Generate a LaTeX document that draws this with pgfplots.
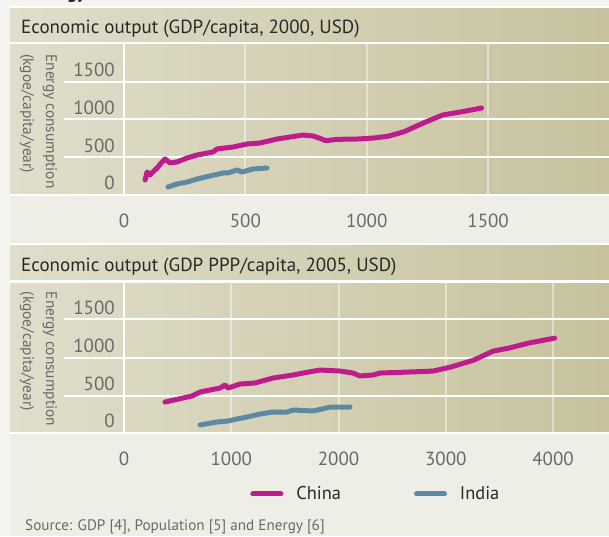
\documentclass[border=0pt]{standalone}
\usepackage{pgfplots}
\pgfplotsset{compat=1.18}
\usepackage{fontspec}
\setmainfont{PT Sans}

\definecolor{china}{RGB}{190,28,140}
\definecolor{india}{RGB}{93,137,163}
\definecolor{pagebg}{RGB}{238,237,230}
\definecolor{margin}{RGB}{245,244,240}
\definecolor{panelL}{RGB}{224,221,203}
\definecolor{panelR}{RGB}{199,194,157}
\definecolor{ticktext}{RGB}{105,105,105}
\definecolor{darktext}{RGB}{40,40,40}

\pgfplotsset{
  panel/.style={
    scale only axis, width=485pt,
    axis line style={draw=none},
    major tick length=0pt,
    xmajorgrids,
    grid style={white, opacity=0.45, line width=2pt},
    clip=false,
    ytick={0,500,1000,1500},
    yticklabels={0,500,1000,1500},
    ticklabel style={font=\fontsize{19}{21}\selectfont, text=ticktext},
    yticklabel style={anchor=east, inner sep=0pt, xshift=-9pt},
    xticklabel style={anchor=center, inner sep=0pt, yshift=-27pt},
  },
  china line/.style={china, line width=5pt, line cap=round, line join=round},
  india line/.style={india, line width=5pt, line cap=round, line join=round},
}

\begin{document}
\begin{tikzpicture}[x=1pt,y=1pt]
\useasboundingbox (0,0) rectangle (609,536);
\fill[pagebg] (0,0) rectangle (609,536);
\fill[margin] (0,0) rectangle (10,536);
\fill[margin] (0,529) rectangle (609,536);
\node[anchor=base west, inner sep=0pt, font=\bfseries\fontsize{19}{21}\selectfont, text=darktext] at (30,537) {Energy};

% upper panel
\shade[left color=panelL, right color=panelR] (10,342) rectangle (609,528);
\draw[white, line width=2.5pt] (10,493) -- (609,493);
\draw[white, line width=2.5pt] (124,493) -- (124,342);
\foreach \yy in {82,119,157} \draw[white, line width=2.5pt] (64,536-\yy) -- (609,536-\yy);
\draw[white, line width=2pt] (10,341) -- (609,341);
\draw[white, line width=2pt] (10,529) -- (609,529);
\node[anchor=west, inner sep=0pt, font=\fontsize{19}{21}\selectfont, text=darktext] at (21,507.5) {Economic output (GDP/capita, 2000, USD)};
\node[rotate=-90, align=left, inner sep=0pt, font=\fontsize{15.4}{23}\selectfont, text=ticktext] at (38.5,414.5) {Energy consumption\\(kgoe/capita/year)};

% lower panel
\shade[left color=panelL, right color=panelR] (10,104) rectangle (609,291);
\draw[white, line width=2.5pt] (10,254.5) -- (609,254.5);
\draw[white, line width=2.5pt] (124,254.5) -- (124,104);
\foreach \yy in {319,358,396} \draw[white, line width=2.5pt] (64,536-\yy) -- (609,536-\yy);
\draw[white, line width=2pt] (10,103) -- (609,103);
\draw[white, line width=2pt] (10,292) -- (609,292);
\node[anchor=west, inner sep=0pt, font=\fontsize{19}{21}\selectfont, text=darktext] at (21,269.5) {Economic output (GDP PPP/capita, 2005, USD)};
\node[rotate=-90, align=left, inner sep=0pt, font=\fontsize{15.4}{23}\selectfont, text=ticktext] at (38.5,177) {Energy consumption\\(kgoe/capita/year)};

\node[anchor=west, inner sep=0pt, font=\fontsize{15.2}{18}\selectfont, text=ticktext] at (25,9) {Source: GDP [4], Population [5] and Energy [6]};

\begin{axis}[panel, at={(124pt,342pt)}, anchor=south west, height=150pt,
  xmin=0, xmax=1998, ymin=-146, ymax=1846,
  xtick={0,500,1000,1500}, xticklabels={0,500,1000,1500}]
\addplot[china line] coordinates {
  (87,40) (95,146) (107,106) (119,146) (136,199) (157,279) (169,319)
  (190,266) (218,279) (260,332) (301,372) (367,412) (383,452) (449,478)
  (507,518) (560,531) (630,584) (684,611) (738,637) (779,624) (810,590)
  (830,562) (881,580) (961,584) (1030,598) (1089,622) (1153,680)
  (1233,797) (1313,903) (1409,956) (1473,996)
};
\addplot[india line] coordinates {
  (181,-53) (218,-13) (260,13) (301,53) (354,93) (408,133) (428,133)
  (466,173) (486,146) (532,186) (589,199)
};
\end{axis}

\begin{axis}[panel, at={(124pt,104pt)}, anchor=south west, height=149pt,
  xmin=0, xmax=4522, ymin=-146, ymax=1833,
  xtick={0,1000,2000,3000,4000}, xticklabels={0,1000,2000,3000,4000},
  legend columns=2,
  legend style={at={(0.26,-0.416)}, anchor=west, draw=none, fill=none,
    inner sep=0pt, nodes={inner sep=0pt},
    font=\fontsize{18.4}{20}\selectfont, text=darktext,
    /tikz/every odd column/.append style={column sep=13pt},
    /tikz/every even column/.append style={column sep=73pt}},
  legend image code/.code={\draw[#1, line cap=round] (2.5pt,0pt) -- (30.5pt,0pt);}]
\addplot[china line] coordinates {
  (382,252) (634,332) (709,385) (895,438) (942,478) (970,438) (1082,491)
  (1221,505) (1389,571) (1576,611) (1669,637) (1828,677) (2014,664)
  (2135,637) (2200,598) (2322,611) (2387,637) (2646,650) (2881,663)
  (3044,716) (3261,809) (3441,928) (3587,968) (3769,1034) (4015,1101)
};
\addlegendentry{China}
\addplot[india line] coordinates {
  (709,-53) (867,-13) (970,0) (1054,27) (1147,53) (1268,93) (1389,119)
  (1520,119) (1576,146) (1762,133) (1846,159) (1921,186) (2107,186)
};
\addlegendentry{India}
\end{axis}
\end{tikzpicture}
\end{document}
